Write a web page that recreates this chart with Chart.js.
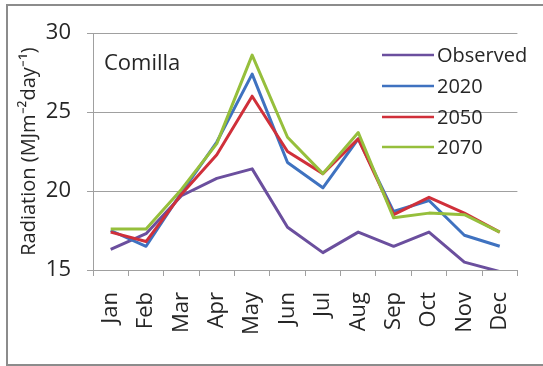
<!DOCTYPE html>
<html lang="en">
  <head>
    <meta charset="UTF-8" />
    <title>Comilla Radiation</title>
    <script src="https://cdn.jsdelivr.net/npm/chart.js"></script>
    <style>
      html, body { margin: 0; padding: 0; background: #fff; }
      #wrap { width: 543px; height: 366px; }
    </style>
  </head>
  <body>
    <div id="wrap"><canvas id="radChart" width="543" height="366"></canvas></div>
    <script>
      const months = ["Jan", "Feb", "Mar", "Apr", "May", "Jun", "Jul", "Aug", "Sep", "Oct", "Nov", "Dec"];
      const observed = [16.3, 17.3, 19.7, 20.8, 21.4, 17.7, 16.1, 17.4, 16.5, 17.4, 15.5, 14.9];
      const y2020 = [17.5, 16.5, 19.9, 23.1, 27.4, 21.8, 20.2, 23.3, 18.7, 19.4, 17.2, 16.5];
      const y2050 = [17.4, 16.8, 19.8, 22.3, 26.0, 22.5, 21.1, 23.3, 18.5, 19.6, 18.6, 17.4];
      const y2070 = [17.6, 17.6, 20.1, 23.0, 28.6, 23.4, 21.1, 23.7, 18.3, 18.6, 18.5, 17.4];
      const yTicks = [15, 20, 25, 30];

      const FONT = "'Open Sans', sans-serif";
      const gridGray = "#a0a0a0";
      const textCol = "#262626";

      // frame around the figure + station name + legend inside the plot
      const decor = {
        id: "decor",
        beforeDraw(chart) {
          const ctx = chart.ctx;
          ctx.save();
          ctx.strokeStyle = "#8c8c8c";
          ctx.lineWidth = 2;
          ctx.beginPath();
          ctx.moveTo(543, 5);
          ctx.lineTo(7, 5);
          ctx.lineTo(7, 365);
          ctx.lineTo(543, 365);
          ctx.stroke();
          ctx.restore();
        },
        afterDraw(chart) {
          const ctx = chart.ctx;
          ctx.save();
          ctx.fillStyle = textCol;
          ctx.textBaseline = "middle";
          ctx.font = "22px " + FONT;
          ctx.fillText("Comilla", 104, 64);

          ctx.font = "20px " + FONT;
          const rows = [55, 86, 117, 147];
          chart.data.datasets.forEach((ds, i) => {
            ctx.strokeStyle = ds.borderColor;
            ctx.lineWidth = 2.5;
            ctx.beginPath();
            ctx.moveTo(382, rows[i]);
            ctx.lineTo(434, rows[i]);
            ctx.stroke();
            ctx.fillStyle = textCol;
            ctx.fillText(ds.label, 437, rows[i] + 1);
          });
          ctx.restore();
        },
      };

      new Chart(document.getElementById("radChart"), {
        type: "line",
        data: {
          labels: months,
          datasets: [
            { label: "Observed", data: observed, borderColor: "#6b4f9e", order: 3 },
            { label: "2020", data: y2020, borderColor: "#3f72c0", order: 2 },
            { label: "2050", data: y2050, borderColor: "#d0303a", order: 1 },
            { label: "2070", data: y2070, borderColor: "#96bf3c", order: 0 },
          ],
        },
        options: {
          responsive: false,
          animation: false,
          layout: { padding: { top: 33, right: 21, left: 17, bottom: 0 } },
          elements: {
            line: { borderWidth: 3, tension: 0, borderJoinStyle: "round", fill: false },
            point: { radius: 0 },
          },
          plugins: {
            legend: { display: false },
            tooltip: { enabled: false },
          },
          scales: {
            x: {
              offset: true,
              grid: { offset: true, drawOnChartArea: false, tickLength: 6, color: gridGray },
              border: { color: gridGray },
              ticks: {
                color: textCol,
                font: { family: FONT, size: 22 },
                minRotation: 90,
                maxRotation: 90,
                padding: 16,
              },
              afterFit(scale) { scale.height = 96; },
            },
            y: {
              min: 15,
              max: 30,
              afterBuildTicks(scale) { scale.ticks = yTicks.map((v) => ({ value: v })); },
              grid: { color: gridGray, tickLength: 6 },
              border: { color: gridGray },
              ticks: {
                color: textCol,
                font: { family: FONT, size: 22 },
                padding: 16,
              },
              title: {
                display: true,
                text: "Radiation (MJm\u207B\u00B2day\u207B\u00B9)",
                color: textCol,
                font: { family: FONT, size: 20 },
                padding: 0,
              },
              afterFit(scale) { scale.width = 76; },
            },
          },
        },
        plugins: [decor],
      });
    </script>
  </body>
</html>
